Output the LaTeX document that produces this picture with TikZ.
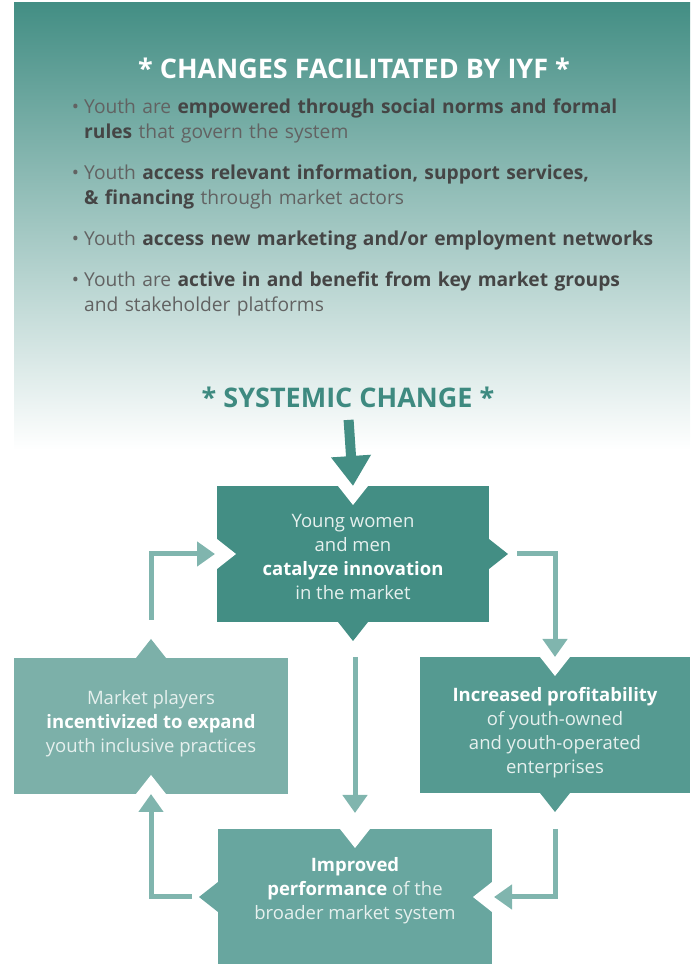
\documentclass[tikz,border=0pt]{standalone}
\usepackage{fontspec}
\setmainfont{Open Sans}
\usetikzlibrary{arrows.meta,calc,positioning}

\definecolor{tealdark}{HTML}{438E84}
\definecolor{tealtitle}{HTML}{3E8A80}
\definecolor{tealprofit}{HTML}{559A91}
\definecolor{tealperform}{HTML}{68A69F}
\definecolor{tealplayers}{HTML}{7CB0A9}
\definecolor{tealarrow}{HTML}{80B5AE}
\definecolor{itemgray}{HTML}{626262}
\definecolor{itembold}{HTML}{454545}
\definecolor{boxlight}{HTML}{E6F0EE}

\begin{document}
\begin{tikzpicture}[line join=miter,x=1pt,y=1pt,
	box/.style={minimum width=272pt,minimum height=136pt,inner sep=0pt,outer sep=0pt},
	boxtext/.style={align=center,text=boxlight,inner sep=0pt,font=\fontsize{18.5}{24}\selectfont},
	item/.style={anchor=north west,align=left,text width=620pt,inner sep=0pt,text=itemgray,font=\fontsize{19.2}{25}\selectfont},
	heading/.style={font=\fontsize{27}{30}\selectfont\bfseries},
	link/.style={line width=5pt,draw=tealarrow,-{Triangle[width=24pt,length=18pt]}}]
	\useasboundingbox (0,0) rectangle (696,964);
	\shade [top color=tealdark,bottom color=white] (14,514) rectangle (690,961);
	\node[heading,text=white] (title) at (354,896) {* CHANGES FACILITATED BY IYF *};
	\node[item] (item1) at (84,865) {\llap{\textbullet\hspace{5pt}}Youth are \textcolor{itembold}{\bfseries empowered through social norms and formal}\\\textcolor{itembold}{\bfseries rules} that govern the system};
	\node[item] (item2) at (84,799) {\llap{\textbullet\hspace{5pt}}Youth \textcolor{itembold}{\bfseries access relevant information, support services,}\\\textcolor{itembold}{\bfseries \& financing} through market actors};
	\node[item] (item3) at (84,733) {\llap{\textbullet\hspace{5pt}}Youth \textcolor{itembold}{\bfseries access new marketing and/or employment networks}};
	\node[item] (item4) at (84,692) {\llap{\textbullet\hspace{5pt}}Youth are \textcolor{itembold}{\bfseries active in and benefit from key market groups}\\and stakeholder platforms};
	\node[heading,text=tealtitle] (systemic) at (348,567) {* SYSTEMIC CHANGE *};
	\node[box,fill=tealdark] (innov) at (353,410) {};
	\node[box,fill=tealplayers,minimum width=274pt] (players) at (151,238) {};
	\node[box,fill=tealprofit,minimum width=270pt] (profit) at (555,239) {};
	\node[box,fill=tealperform,minimum width=274pt] (perform) at (355,67) {};
	\fill[white,shift={(innov.north)}] (-15,0) -- (15,0) -- (0,-19) -- cycle;
	\fill[white,shift={(innov.west)}] (0,15) -- (0,-15) -- (19,0) -- cycle;
	\fill[tealdark,shift={(innov.east)}] (0,15) -- (0,-15) -- (19,0) -- cycle;
	\fill[tealdark,shift={(innov.south)}] (-15,0) -- (15,0) -- (0,-19) -- cycle;
	\fill[tealplayers,shift={(players.north)}] (-15,0) -- (15,0) -- (0,19) -- cycle;
	\fill[white,shift={(players.south)}] (-15,0) -- (15,0) -- (0,19) -- cycle;
	\fill[white,shift={(profit.north)}] (-15,0) -- (15,0) -- (0,-19) -- cycle;
	\fill[tealprofit,shift={(profit.south)}] (-15,0) -- (15,0) -- (0,-19) -- cycle;
	\fill[white,shift={(perform.north)}] (-15,0) -- (15,0) -- (0,-19) -- cycle;
	\fill[tealperform,shift={(perform.west)}] (0,15) -- (0,-15) -- (-19,0) -- cycle;
	\fill[white,shift={(perform.east)}] (0,15) -- (0,-15) -- (-19,0) -- cycle;
	\node[boxtext] (innovtext) at ([yshift=-3pt]innov.center) {Young women\\and men\\\textcolor{white}{\bfseries catalyze innovation}\\in the market};
	\node[boxtext] (playerstext) at ([yshift=2pt]players.center) {Market players\\\textcolor{white}{\bfseries incentivized to expand}\\youth inclusive practices};
	\node[boxtext] (profittext) at ([yshift=-8pt]profit.center) {\textcolor{white}{\bfseries Increased profitability}\\of youth-owned\\and youth-operated\\enterprises};
	\node[boxtext] (performtext) at ([yshift=6pt]perform.center) {\textcolor{white}{\bfseries Improved}\\\textcolor{white}{\bfseries performance} of the\\broader market system};
	\draw[line width=10pt,draw=tealdark,-{Triangle[width=38pt,length=30pt]},shorten <=9pt] (systemic.south) -- (innov.north);
	\draw[link] ($(innov.east)+(28,0)$) -| (profit.north);
	\draw[link,shorten >=16pt] ($(perform.north |- innov.south)+(0,-35)$) -- (perform.north);
	\draw[link,shorten >=2pt] ($(profit.south)+(0,-36)$) |- (perform.east);
	\draw[link] ($(perform.west)+(-26,0)$) -| (players.south);
	\draw[link,shorten >=2pt] ($(players.north)+(0,38)$) |- (innov.west);
\end{tikzpicture}
\end{document}
